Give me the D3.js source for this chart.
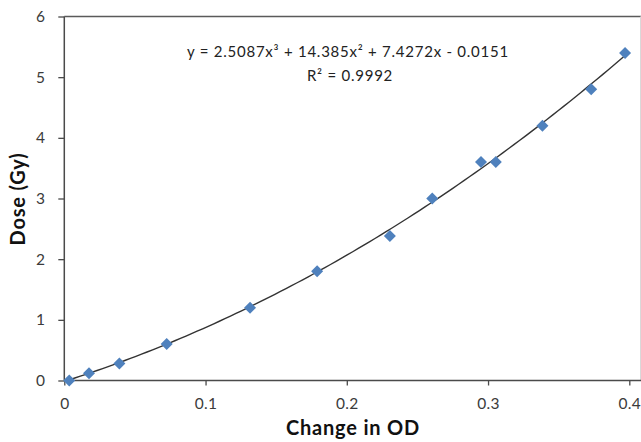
<!DOCTYPE html>
<html>
<head>
<meta charset="utf-8">
<script src="https://cdn.jsdelivr.net/npm/d3@7"></script>
<style>
  html, body { margin: 0; padding: 0; background: #fff; }
  svg { display: block; }
</style>
</head>
<body>
<svg id="chart" width="641" height="442"></svg>
<script>
// ---- data ----
const changeInOD = [0.0035, 0.0175, 0.039, 0.0725, 0.1315, 0.179, 0.2305, 0.2605, 0.295, 0.3055, 0.3385, 0.373, 0.397];
const doseGy     = [0.0,    0.12,   0.28,  0.6,    1.2,    1.8,   2.38,   3.0,    3.6,   3.6,    4.2,    4.8,   5.4];
const xTicks = [0, 0.1, 0.2, 0.3, 0.4];
const yTicks = [0, 1, 2, 3, 4, 5, 6];
// trendline coefficients as shown in the chart (cubic, highest power first)
const trendCoefficients = [2.5087, 14.385, 7.4272, -0.0151];
const equationText = "y = 2.5087x\u00B3 + 14.385x\u00B2 + 7.4272x - 0.0151";
const r2Text = "R\u00B2 = 0.9992";
const xTitle = "Change in OD";
const yTitle = "Dose (Gy)";

(function () {
// ---- layout ----
const svg = d3.select("#chart");
const pL = 64.3, pR = 641, pT = 16.5, pB = 380.5;
const x = d3.scaleLinear().domain([0, 0.4]).range([pL, 629.3]);
const y = d3.scaleLinear().domain([0, 6]).range([pB, pT]);
const font = "Lato, 'Open Sans', sans-serif";
const textColor = "#3b3b3b";
const axisColor = "#4a4a4a";

// plot area frame (top + right)
svg.append("line").attr("x1", pL).attr("x2", pR).attr("y1", pT).attr("y2", pT)
  .attr("stroke", "#5a5a5a").attr("stroke-width", 1.3);
svg.append("line").attr("x1", 640.5).attr("x2", 640.5).attr("y1", pT).attr("y2", pB)
  .attr("stroke", "#d9d9d9").attr("stroke-width", 1);

// x axis
const xAxis = svg.append("g").attr("transform", `translate(0,${pB})`)
  .call(d3.axisBottom(x).tickValues(xTicks).tickSize(5).tickPadding(12)
        .tickFormat(d => d === 0 ? "0" : d3.format(".1f")(d)));
xAxis.select(".domain").remove();
xAxis.append("line").attr("x1", pL).attr("x2", pR).attr("stroke", axisColor).attr("stroke-width", 1.5);

// y axis
const yAxis = svg.append("g").attr("transform", `translate(${pL},0)`)
  .call(d3.axisLeft(y).tickValues(yTicks).tickSize(6).tickPadding(13).tickFormat(d3.format("d")));
yAxis.select(".domain").remove();
yAxis.append("line").attr("y1", pT).attr("y2", pB).attr("stroke", axisColor).attr("stroke-width", 1.5);

svg.selectAll(".tick line").attr("stroke", axisColor).attr("stroke-width", 1.3);
svg.selectAll(".tick text").attr("fill", textColor).style("font-family", font)
  .style("font-size", "15.5px").style("letter-spacing", "0.3px");

// trendline (from displayed polynomial), spanning the data range
const [a3, a2, a1, a0] = trendCoefficients;
const xExtent = d3.extent(changeInOD);
const trendX = d3.range(0, 101).map(i => xExtent[0] + (xExtent[1] - xExtent[0]) * i / 100);
const trendPts = trendX.map(v => [v, a3 * v * v * v + a2 * v * v + a1 * v + a0]);
svg.append("path")
  .datum(trendPts)
  .attr("fill", "none").attr("stroke", "#333").attr("stroke-width", 1.4)
  .attr("d", d3.line().x(d => x(d[0])).y(d => y(d[1])));

// markers (diamonds)
const pts = changeInOD.map((v, i) => [v, doseGy[i]]);
svg.append("g").selectAll("path").data(pts).join("path")
  .attr("d", d3.symbol().type(d3.symbolSquare).size(72))
  .attr("transform", d => `translate(${x(d[0])},${y(d[1])}) rotate(45)`)
  .attr("fill", "#4f81bd");

// equation + R²
svg.append("text").attr("x", 348).attr("y", 57).attr("text-anchor", "middle")
  .style("font-family", font).style("font-size", "15px").style("letter-spacing", "0.75px").attr("fill", "#222")
  .text(equationText);
svg.append("text").attr("x", 350).attr("y", 81).attr("text-anchor", "middle")
  .style("font-family", font).style("font-size", "15px").style("letter-spacing", "0.75px").attr("fill", "#222")
  .text(r2Text);

// axis titles
svg.append("text").attr("x", 353).attr("y", 435).attr("text-anchor", "middle")
  .style("font-family", font).style("font-size", "20px").style("font-weight", "bold")
  .style("letter-spacing", "0.8px").attr("fill", "#111")
  .text(xTitle);
svg.append("text").attr("transform", "translate(25,199) rotate(-90)").attr("text-anchor", "middle")
  .style("font-family", font).style("font-size", "20px").style("font-weight", "bold")
  .style("letter-spacing", "0.8px").attr("fill", "#111")
  .text(yTitle);
})();
</script>
</body>
</html>
